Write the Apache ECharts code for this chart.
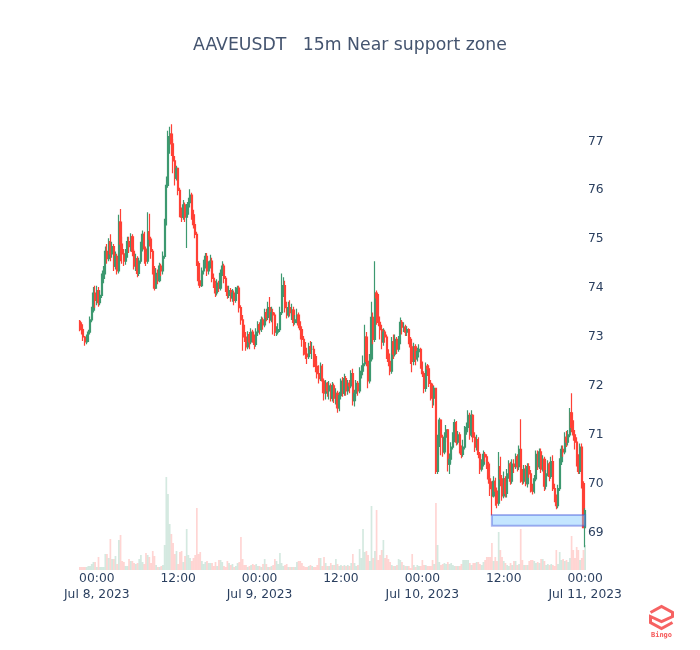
<!DOCTYPE html>
<html>
<head>
<meta charset="utf-8">
<style>
  html, body { margin: 0; padding: 0; background: #fff; }
  #chart { width: 700px; height: 650px; }
</style>
<script src="https://cdn.jsdelivr.net/npm/echarts@6/dist/echarts.min.js"></script>
</head>
<body>
<div id="chart"></div>
<script>
const titleText = 'AAVEUSDT   15m Near support zone';
const priceTicks = [69, 70, 71, 72, 73, 74, 75, 76, 77];
const firstOpen = 73.32;

const closes = [
  73.25,73.15,73.00,72.90,72.95,73.10,73.35,73.55,73.90,73.75,
  73.95,73.70,73.85,74.20,74.35,74.75,74.60,74.95,74.70,74.85,
  74.45,74.65,74.35,75.35,74.90,74.70,74.55,74.70,74.95,74.85,
  75.05,74.75,74.45,74.60,74.30,74.55,74.85,75.10,74.80,74.55,
  75.15,75.00,74.75,74.40,74.00,74.30,74.15,74.45,74.35,74.65,
  75.35,76.10,77.10,77.15,76.95,76.60,76.25,76.45,76.00,75.55,
  75.45,75.70,75.45,75.60,75.75,75.90,75.50,75.30,75.10,74.50,
  74.15,74.05,74.35,74.50,74.65,74.35,74.45,74.55,74.20,74.10,
  73.90,74.10,74.00,74.30,74.45,74.20,74.00,73.85,73.95,73.80,
  73.90,73.75,73.95,74.00,73.60,73.35,73.05,73.00,72.80,73.05,
  72.90,73.10,72.95,72.85,73.10,73.25,73.15,73.35,73.25,73.50,
  73.40,73.60,73.35,73.50,73.45,73.10,73.10,73.15,73.50,73.95,
  74.05,73.60,73.45,73.60,73.50,73.55,73.30,73.35,73.45,73.25,
  73.15,72.95,72.85,72.65,72.60,72.80,72.75,72.75,72.60,72.40,
  72.25,72.15,72.40,72.10,71.85,72.05,71.90,72.00,71.75,72.00,
  71.75,71.85,71.55,71.80,72.10,71.85,72.15,71.90,72.05,72.00,
  72.25,71.70,71.85,72.05,71.90,72.30,72.30,72.45,73.00,72.50,
  72.10,72.55,73.40,72.95,73.90,73.80,73.30,73.15,72.90,73.10,
  73.00,72.65,72.50,72.30,72.90,72.65,72.95,72.75,72.95,73.30,
  73.20,73.20,73.10,73.15,72.95,72.80,72.50,72.80,72.55,72.70,
  72.75,72.45,72.25,71.95,72.40,72.35,72.05,72.00,71.75,71.95,
  70.25,70.85,71.30,70.95,70.65,70.95,71.10,70.40,70.50,70.75,
  70.95,71.25,70.85,71.00,70.70,70.60,70.75,71.10,71.15,71.40,
  71.00,71.40,70.95,70.75,70.90,70.60,70.30,70.40,70.60,70.55,
  70.40,70.10,69.90,69.75,70.05,69.85,69.60,70.35,70.10,69.75,
  70.10,69.80,70.20,70.40,70.05,70.40,70.35,70.55,70.35,70.70,
  70.10,70.05,70.30,70.00,70.35,70.20,69.90,69.85,70.10,70.60,
  70.35,70.65,70.30,70.50,69.95,70.20,70.40,70.15,70.45,69.90,
  69.70,69.55,69.90,70.45,70.70,70.65,70.95,70.85,71.00,71.45,
  71.15,71.00,70.85,70.50,70.25,70.75,70.00,69.10,69.45
];
const highs = [
  73.35,73.30,73.18,73.02,73.05,73.15,73.42,73.62,74.02,74.05,
  74.05,74.02,73.95,74.30,74.45,74.85,74.90,75.02,75.10,74.95,
  74.90,74.75,74.70,75.50,75.62,75.05,74.80,74.80,75.05,75.05,
  75.12,75.10,74.80,74.70,74.65,74.62,74.95,75.18,75.15,74.85,
  75.55,75.52,75.05,74.80,74.45,74.40,74.38,74.52,74.50,74.75,
  75.42,76.28,77.22,77.30,77.35,77.05,76.70,76.50,76.45,76.05,
  75.65,75.80,75.75,75.72,75.85,76.02,75.95,75.60,75.35,75.15,
  74.55,74.30,74.42,74.58,74.72,74.72,74.55,74.68,74.62,74.30,
  74.15,74.18,74.15,74.38,74.55,74.50,74.25,74.05,74.05,74.00,
  73.98,73.95,74.02,74.05,74.05,73.65,73.45,73.25,73.10,73.12,
  73.10,73.18,73.15,73.05,73.18,73.32,73.30,73.42,73.40,73.58,
  73.58,73.72,73.82,73.62,73.58,73.50,73.22,73.28,73.62,74.30,
  74.22,74.15,73.72,73.72,73.75,73.68,73.62,73.45,73.58,73.50,
  73.32,73.22,73.02,72.90,72.78,72.88,72.92,72.90,72.82,72.65,
  72.50,72.42,72.48,72.45,72.15,72.12,72.08,72.10,72.05,72.08,
  72.05,71.95,71.90,71.88,72.15,72.18,72.25,72.20,72.12,72.12,
  72.32,72.35,71.92,72.12,72.10,72.38,72.42,72.62,73.25,73.10,
  72.65,72.65,73.72,73.50,74.55,73.95,73.88,73.42,73.25,73.18,
  73.15,73.05,72.75,72.58,73.00,73.05,73.05,73.00,73.02,73.40,
  73.35,73.30,73.25,73.22,73.18,73.00,72.85,72.88,72.85,72.78,
  72.85,72.78,72.50,72.30,72.48,72.45,72.42,72.12,72.05,72.00,
  71.95,71.00,71.35,71.32,71.00,71.05,71.20,71.12,70.62,70.85,
  71.05,71.32,71.28,71.08,71.05,70.78,70.90,71.18,71.25,71.50,
  71.45,71.50,71.42,71.05,71.00,70.95,70.65,70.50,70.68,70.65,
  70.60,70.45,70.18,70.05,70.15,70.12,69.92,70.65,70.55,70.18,
  70.25,70.15,70.30,70.48,70.45,70.50,70.50,70.62,70.60,70.78,
  71.32,70.30,70.38,70.38,70.42,70.42,70.28,70.00,70.18,70.68,
  70.68,70.72,70.72,70.58,70.55,70.28,70.48,70.45,70.55,70.58,
  70.00,69.78,69.98,70.52,70.78,70.78,71.05,71.08,71.10,71.55,
  71.85,71.30,71.10,70.95,70.60,70.82,70.82,70.05,69.50
];
const lows = [
  73.12,73.05,72.92,72.82,72.85,72.90,73.05,73.30,73.50,73.60,
  73.65,73.62,73.65,73.80,74.10,74.28,74.50,74.55,74.55,74.62,
  74.35,74.38,74.28,74.30,74.55,74.50,74.45,74.48,74.62,74.72,
  74.75,74.65,74.38,74.35,74.22,74.25,74.50,74.75,74.50,74.45,
  74.50,74.85,74.60,74.28,73.95,73.98,74.08,74.12,74.25,74.28,
  74.60,75.28,76.05,76.75,76.70,76.35,76.10,76.20,75.90,75.45,
  75.35,75.40,75.35,74.82,75.50,75.65,75.40,75.22,75.02,74.45,
  74.05,74.00,74.02,74.28,74.40,74.25,74.28,74.40,74.12,74.00,
  73.82,73.85,73.92,73.95,74.25,74.10,73.92,73.78,73.80,73.72,
  73.72,73.65,73.70,73.88,73.50,73.25,72.72,72.90,72.72,72.75,
  72.75,72.85,72.88,72.75,72.80,73.02,73.05,73.10,73.15,73.20,
  73.32,73.35,73.28,73.30,73.05,73.02,73.02,73.05,73.10,73.45,
  73.82,73.50,73.38,73.40,73.42,73.35,73.22,73.25,73.28,73.18,
  72.95,72.80,72.62,72.55,72.45,72.55,72.65,72.55,72.38,72.28,
  72.15,72.05,72.10,71.85,71.70,71.72,71.78,71.72,71.68,71.68,
  71.65,71.62,71.45,71.48,71.72,71.78,71.80,71.80,71.82,71.85,
  71.95,71.60,71.58,71.78,71.80,71.85,72.15,72.22,72.40,72.40,
  71.95,72.05,72.50,72.85,72.90,73.25,73.22,72.95,72.75,72.82,
  72.88,72.55,72.40,72.22,72.25,72.55,72.60,72.65,72.70,72.85,
  73.05,73.10,73.02,73.02,72.85,72.45,72.28,72.42,72.42,72.50,
  72.58,72.35,72.18,71.85,71.88,72.20,71.98,71.70,71.55,71.60,
  70.20,70.20,70.75,70.58,70.55,70.60,70.85,70.25,70.20,70.42,
  70.70,70.85,70.78,70.80,70.62,70.52,70.55,70.70,71.00,71.05,
  70.90,70.95,70.85,70.65,70.68,70.52,70.20,70.25,70.35,70.45,
  70.30,70.00,69.75,69.35,69.72,69.55,69.50,69.55,69.95,69.65,
  69.70,69.72,69.72,70.10,69.98,70.00,70.22,70.30,70.25,70.28,
  70.02,69.98,70.00,69.95,69.92,70.12,69.82,69.78,69.80,70.05,
  70.28,70.30,70.22,70.25,69.85,69.88,70.15,70.05,70.10,69.85,
  69.62,69.48,69.50,69.85,70.38,70.55,70.60,70.75,70.78,70.95,
  71.05,70.88,70.70,70.35,70.20,70.20,69.90,69.10,68.70
];
const volumes = [
  3,3,3,3,3,4,4,6,8,8,
  3,13,3,3,3,16,16,12,31,11,
  11,14,6,30,35,9,8,4,4,11,
  9,9,7,6,7,11,15,8,6,17,
  15,13,7,19,14,5,3,3,4,5,
  25,93,76,46,36,27,16,19,6,18,
  19,8,14,41,15,12,9,12,15,62,
  16,18,9,6,8,9,7,7,7,4,
  8,4,10,10,8,4,3,9,7,5,
  6,3,4,7,8,33,11,5,5,3,
  4,5,6,5,6,4,4,3,6,11,
  6,3,3,4,5,11,9,6,17,7,
  4,5,6,3,3,3,3,3,8,9,
  9,7,4,3,3,4,5,4,3,3,
  5,12,12,4,13,7,4,4,7,5,
  5,11,6,4,5,4,5,4,5,4,
  7,16,7,4,5,21,12,41,18,19,
  15,9,64,12,19,60,10,15,20,30,
  12,15,11,8,5,4,4,5,11,10,
  8,5,4,4,4,2,16,5,3,5,
  4,4,10,5,5,4,4,4,10,6,
  67,25,8,5,6,7,6,8,6,7,
  5,4,4,4,4,6,10,10,10,10,
  7,5,7,7,8,8,6,5,8,10,
  13,13,13,27,9,13,9,38,20,13,
  9,7,5,4,7,5,9,9,5,6,
  41,10,5,5,5,9,10,10,9,7,
  8,7,11,11,9,5,6,5,6,5,
  4,20,6,18,10,11,9,10,8,12,
  34,20,12,23,20,10,12,20,25
];
// support zone, price band and candle indexes
const zonePrices = [69.36, 69.14];
const zoneSpan = [243, 298];

const UP = '#3D9970', DOWN = '#FF4136';
const MONTHS = ['Jan', 'Feb', 'Mar', 'Apr', 'May', 'Jun', 'Jul'];
const startTime = Date.UTC(2023, 6, 7, 21, 30);

let times = closes.map((c, i) => startTime + i * 15 * 60000);
let opens = closes.map((c, i) => i === 0 ? firstOpen : closes[i - 1]);

function timeLabel(i) {
    let d = new Date(times[i]);
    let hh = String(d.getUTCHours()).padStart(2, '0');
    if (hh === '00') {
        return '00:00\n' + MONTHS[d.getUTCMonth()] + ' ' + d.getUTCDate() + ', ' + d.getUTCFullYear();
    }
    return hh + ':00';
}
function isTickIndex(i) {
    let d = new Date(times[i]);
    return d.getUTCMinutes() === 0 && d.getUTCHours() % 12 === 0;
}

let myChart = echarts.init(document.getElementById('chart'));
let fontName = 'DejaVu Sans';
let textColor = '#2a3f5f';

let option = {
    animation: false,
    backgroundColor: '#fff',
    textStyle: { fontFamily: fontName },
    title: {
        text: titleText,
        left: 'center',
        top: 32,
        textStyle: { color: '#44546f', fontWeight: 'normal', fontSize: 17.3, fontFamily: fontName }
    },
    grid: [
        { left: 79, width: 507, top: 92.5, height: 489 },
        { left: 79, width: 507, top: 470, height: 100 }
    ],
    xAxis: [
        {
            type: 'category', gridIndex: 0, data: times, show: false
        },
        {
            type: 'category', gridIndex: 1, data: times,
            axisLine: { show: false },
            axisTick: { show: false },
            splitLine: { show: false },
            axisLabel: {
                interval: (i) => isTickIndex(i),
                formatter: (v, i) => timeLabel(i),
                color: textColor,
                fontSize: 12.3,
                fontFamily: fontName,
                lineHeight: 16,
                margin: 1,
                hideOverlap: false
            }
        }
    ],
    yAxis: [
        {
            type: 'value', gridIndex: 0, position: 'right',
            min: 68, max: 78, interval: 1,
            axisLine: { show: false },
            axisTick: { show: false },
            splitLine: { show: false },
            axisLabel: {
                color: textColor,
                fontSize: 12.3,
                fontFamily: fontName,
                margin: 2,
                formatter: (v) => priceTicks.includes(v) ? String(v) : ''
            }
        },
        {
            type: 'value', gridIndex: 1, min: 0, max: 100, show: false
        }
    ],
    series: [
        {
            name: 'volume',
            type: 'bar',
            xAxisIndex: 1,
            yAxisIndex: 1,
            barWidth: 1.7,
            silent: true,
            z: 1,
            data: volumes.map((v, i) => ({
                value: v,
                itemStyle: {
                    color: closes[i] >= opens[i] ? 'rgba(61,153,112,0.22)' : 'rgba(255,65,54,0.22)'
                }
            }))
        },
        {
            name: 'price',
            type: 'candlestick',
            xAxisIndex: 0,
            yAxisIndex: 0,
            barWidth: 1.7,
            silent: true,
            z: 2,
            itemStyle: {
                color: UP, color0: DOWN, borderColor: UP, borderColor0: DOWN, borderWidth: 1.2
            },
            data: closes.map((c, i) => [opens[i], c, lows[i], highs[i]]),
            markArea: {
                silent: true,
                z: 5,
                itemStyle: {
                    color: 'rgba(125,200,255,0.45)',
                    borderColor: 'rgba(70,90,220,0.45)',
                    borderWidth: 2
                },
                data: [[
                    { xAxis: zoneSpan[0], yAxis: zonePrices[0] },
                    { xAxis: zoneSpan[1], yAxis: zonePrices[1] }
                ]]
            }
        }
    ],
    graphic: [
        {
            type: 'group',
            left: 648,
            top: 604,
            children: [
                {
                    type: 'polyline',
                    shape: { points: [[1, 7], [12, 1], [23, 7], [23, 11], [12, 16], [1, 11], [1, 17], [12, 23], [23, 17]] },
                    style: { stroke: 'rgba(245,70,70,0.85)', fill: null, lineWidth: 3 }
                },
                {
                    type: 'text',
                    x: 12,
                    y: 26,
                    style: { text: 'Bingo', fill: 'rgba(245,70,70,0.9)', font: 'bold 7px "DejaVu Sans Mono"', textAlign: 'center' }
                }
            ]
        }
    ]
};
myChart.setOption(option);
</script>
</body>
</html>
